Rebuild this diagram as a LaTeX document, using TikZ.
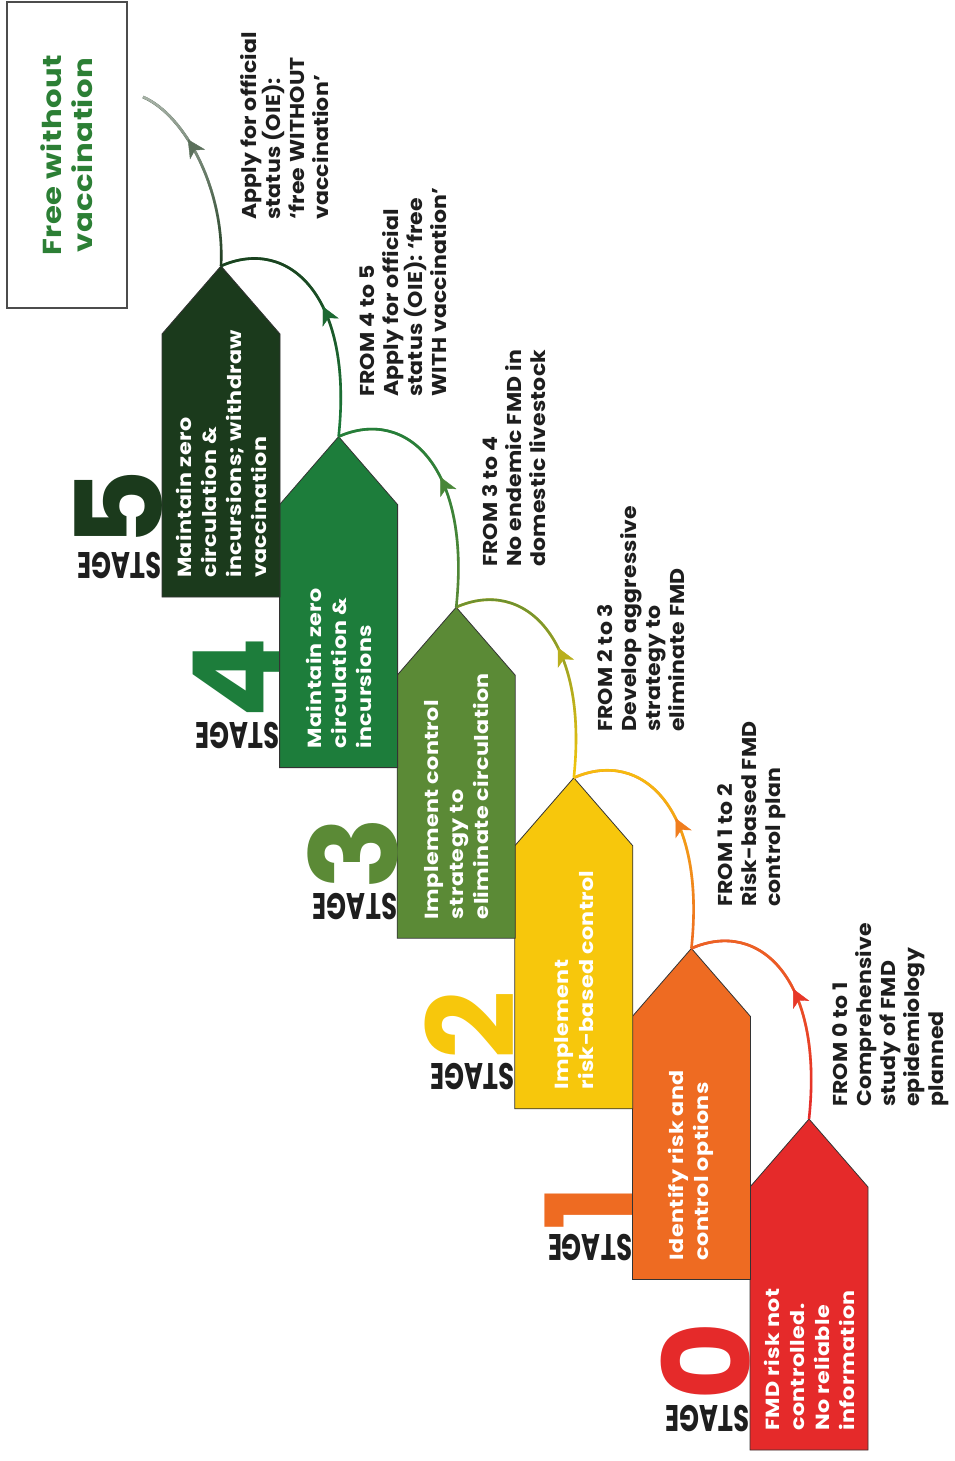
\documentclass[tikz,border=0pt]{standalone}
\usepackage{fontspec}
\setmainfont{Poppins}
\newfontfamily\fmdboxfont{Poppins}[FakeStretch=1.17, LetterSpace=2]
\newfontfamily\fmdnotefont{Poppins}[FakeStretch=1.1, LetterSpace=1]
\newfontfamily\fmdfreefont{Poppins}[FakeStretch=1.18, LetterSpace=2]
\usetikzlibrary{calc,arrows.meta,decorations.markings,fadings}
\definecolor{cZero}{HTML}{E52A2A}
\definecolor{cOne}{HTML}{EE6B22}
\definecolor{cTwo}{HTML}{F7C70C}
\definecolor{cThree}{HTML}{5B8A36}
\definecolor{cFour}{HTML}{1D7D3B}
\definecolor{cFive}{HTML}{1B3A1C}
\definecolor{cFree}{HTML}{2C7F35}
\definecolor{cFade}{HTML}{A9B3A9}
\definecolor{cInk}{HTML}{1E1E1E}
\tikzset{
  boxline/.style={draw=black!80, line width=0.8pt, line join=miter},
  boxtext/.style={text=white, font=\fmdboxfont\fontsize{19}{25}\selectfont\bfseries, align=left, inner sep=0pt},
  note/.style={text=cInk, font=\fmdnotefont\fontsize{20}{24}\selectfont\bfseries, align=left, inner sep=0pt, rotate=90, anchor=north west},
  digit/.style={font=\fontsize{120}{120}\selectfont\bfseries, inner sep=0pt},
  stagelbl/.style={font=\fontsize{37}{37}\selectfont\bfseries, inner sep=0pt, text=cInk},
  arcline/.style={line width=2.6pt},
  fmdtip/.tip={Stealth[length=18pt,width=18pt,inset=5pt]}
}
\newcommand{\fmdstage}[4]{%
  \pgfmathsetmacro{\Lx}{750-117.6*#1}
  \pgfmathsetmacro{\Rx}{\Lx+118}
  \pgfmathsetmacro{\Cx}{\Lx+59}
  \pgfmathsetmacro{\By}{-(1450-170.6*#1)}
  \pgfmathsetmacro{\Sy}{\By+263}
  \pgfmathsetmacro{\Ay}{\Sy+68}
  \coordinate (apex#1) at (\Cx,\Ay);
  \draw[boxline, fill=#2] (\Lx,\By) -- (\Rx,\By) -- (\Rx,\Sy) -- (apex#1) -- (\Lx,\Sy) -- cycle;
  \node[boxtext, rotate=90, anchor=west] (txt#1) at (\Cx,\By+19) {#3};
  \node[digit, text=#2, rotate=90, anchor=base west] (dig#1) at (\Lx,\By+49) {#4};
  \node[stagelbl, rotate=180, anchor=base west] (lbl#1) at (\Lx,\By+45) {\scalebox{0.7}[1]{STAGE}};
}
\newcommand{\fmdarc}[5]{%
  \draw[arcline, draw=#3] (#1) .. controls ($(#1)+(15,140)$) and ($(#2)+(68,30)$) .. (#2);
  \draw[arcline, draw=#4, path fading=south] (#1) .. controls ($(#1)+(15,140)$) and ($(#2)+(68,30)$) .. (#2);
  \path[decoration={markings, mark=at position 0.52 with {\arrow[color=#5]{fmdtip}}}, decorate]
    (#1) .. controls ($(#1)+(15,140)$) and ($(#2)+(68,30)$) .. (#2);
}
\begin{document}
\begin{tikzpicture}[x=1pt,y=1pt]
\useasboundingbox[fill=white] (0,0) rectangle (954,-1461);

\fmdstage{0}{cZero}{FMD risk not\\controlled.\\No reliable\\information}{0}
\fmdstage{1}{cOne}{Identify risk and\\control options}{1}
\fmdstage{2}{cTwo}{Implement\\risk-based control}{2}
\fmdstage{3}{cThree}{Implement control\\strategy to\\eliminate circulation}{3}
\fmdstage{4}{cFour}{Maintain zero\\circulation \&\\incursions}{4}
\fmdstage{5}{cFive}{Maintain zero\\circulation \&\\incursions; withdraw\\vaccination}{5}

\fmdarc{apex0}{apex1}{cZero}{cOne}{cZero!80!cOne}
\fmdarc{apex1}{apex2}{cOne}{cTwo}{cOne!80!cTwo}
\fmdarc{apex2}{apex3}{cTwo}{cThree}{cTwo!60!cThree}
\fmdarc{apex3}{apex4}{cThree}{cFour}{cThree!70!cFour}
\fmdarc{apex4}{apex5}{cFour}{cFive}{cFour!70!cFive}

% final arrow
\coordinate (fend) at (143,-97);
\draw[arcline, draw=cFive] (apex5) .. controls ($(apex5)+(4,76)$) and ($(fend)+(42,-18)$) .. (fend);
\draw[arcline, draw=cFade, path fading=south] (apex5) .. controls ($(apex5)+(4,76)$) and ($(fend)+(42,-18)$) .. (fend);
\path[decoration={markings, mark=at position 0.68 with {\arrow[color=cFive!55!cFade]{fmdtip}}}, decorate]
  (apex5) .. controls ($(apex5)+(4,76)$) and ($(fend)+(42,-18)$) .. (fend);

% free box
\node[draw=black!70, line width=1.6pt, rotate=90, minimum width=306, minimum height=120, inner sep=0pt,
      text=cFree, font=\fmdfreefont\fontsize{26}{31}\selectfont\bfseries, align=center] (free) at (67,-155) {Free without\\vaccination};

% notes
\node[note] (n01) at (832,-1107) {FROM 0 to 1\\Comprehensive\\study of FMD\\epidemiology\\planned};
\node[note] (n12) at (717,-907) {FROM 1 to 2\\Risk-based FMD\\control plan};
\node[note] (n23) at (597,-732) {FROM 2 to 3\\Develop aggressive\\strategy to\\eliminate FMD};
\node[note] (n34) at (482,-567) {FROM 3 to 4\\No endemic FMD in\\domestic livestock};
\node[note] (n45) at (360,-397) {FROM 4 to 5\\Apply for official\\status (OIE): ‘free\\WITH vaccination’};
\node[note] (n5f) at (240,-220) {Apply for official\\status (OIE):\\‘free WITHOUT\\vaccination’};
\end{tikzpicture}
\end{document}
